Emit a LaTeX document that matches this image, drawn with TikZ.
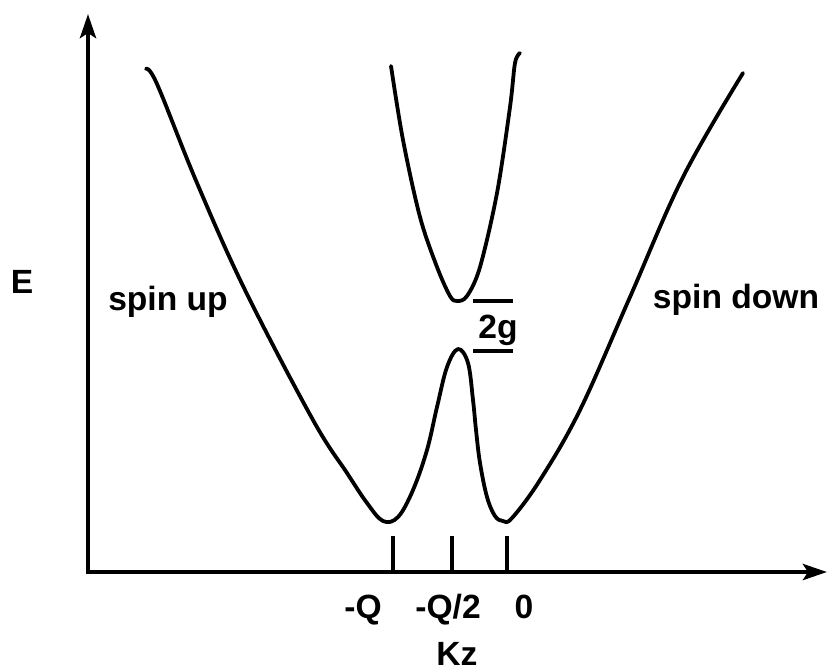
\documentclass[tikz,border=0pt]{standalone}
\usepackage{fontspec}
\setmainfont{Liberation Sans}
\usetikzlibrary{arrows.meta}

\begin{document}
\begin{tikzpicture}[
    x=0.5pt, y=-0.5pt,
    band/.style={line width=1.9pt, line join=round, line cap=round},
    axis/.style={-{Stealth[length=12pt,width=8pt,inset=2.5pt]}, line width=2.2pt},
    tick/.style={line width=1.8pt},
    lbl/.style={font=\fontsize{16.8}{20}\selectfont\bfseries, inner sep=0pt, anchor=base}
]
\useasboundingbox (0,0) rectangle (828,671);

% axes
\coordinate (origin) at (88,572);
\coordinate (ytop) at (88,14);
\coordinate (xend) at (827,572);
\draw[axis] (origin) -- (ytop);
\draw[axis] ([xshift=-1pt]origin) -- (xend);

% ticks
\foreach \x/\nm in {393/mq, 452/mqh, 507/zero} {
    \coordinate (\nm top) at (\x,536);
    \coordinate (\nm bot) at (\x,572);
    \draw[tick] (\nm top) -- (\nm bot);
}

% lower band
\draw[band] plot[smooth, tension=0.6] coordinates {
    (146,69) (157,84) (197,183) (245,290) (313,420) (347,473) (367,503)
    (383,521) (398,517) (413,490) (427,450) (437,407) (447,367) (458,349)
    (468,363) (473,400) (476,430) (480,463) (487,497) (495,516) (503,521)
    (512,518) (540,480) (580,410) (630,297) (683,177) (743,73)};

% upper band
\draw[band] plot[smooth, tension=0.55] coordinates {
    (391,66) (403,140) (420,217) (437,267) (450,296) (457,301) (467,296)
    (480,267) (497,193) (510,107) (515,63) (520,53)};

% gap 2g
\coordinate (gupl) at (473,301);
\coordinate (gupr) at (513,301);
\coordinate (gdnl) at (473,351);
\coordinate (gdnr) at (513,351);
\draw[tick] (gupl) -- (gupr);
\draw[tick] (gdnl) -- (gdnr);

% labels
\node[lbl] (elabel) at (22,293) {E};
\node[lbl] (up) at (168,310) {spin up};
\node[lbl] (down) at (736,308) {spin down};
\node[lbl] (gap) at (498,338) {2g};
\node[lbl] (kq) at (363,618) {-Q};
\node[lbl] (kqh) at (448,618) {-Q/2};
\node[lbl] (kzero) at (524,618) {0};
\node[lbl] (kz) at (457,665) {Kz};
\end{tikzpicture}
\end{document}
